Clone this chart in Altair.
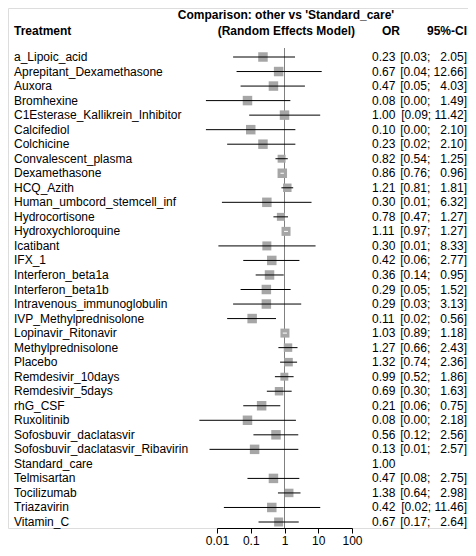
import math
import altair as alt
import pandas as pd

treatments = [
    "a_Lipoic_acid", "Aprepitant_Dexamethasone", "Auxora", "Bromhexine",
    "C1Esterase_Kallikrein_Inhibitor", "Calcifediol", "Colchicine",
    "Convalescent_plasma", "Dexamethasone", "HCQ_Azith",
    "Human_umbcord_stemcell_inf", "Hydrocortisone", "Hydroxychloroquine",
    "Icatibant", "IFX_1", "Interferon_beta1a", "Interferon_beta1b",
    "Intravenous_immunoglobulin", "IVP_Methylprednisolone",
    "Lopinavir_Ritonavir", "Methylprednisolone", "Placebo",
    "Remdesivir_10days", "Remdesivir_5days", "rhG_CSF", "Ruxolitinib",
    "Sofosbuvir_daclatasvir", "Sofosbuvir_daclatasvir_Ribavirin",
    "Standard_care", "Telmisartan", "Tocilizumab", "Triazavirin", "Vitamin_C",
]
or_vals = [0.23, 0.67, 0.47, 0.08, 1.00, 0.10, 0.23, 0.82, 0.86, 1.21, 0.30,
           0.78, 1.11, 0.30, 0.42, 0.36, 0.29, 0.29, 0.11, 1.03, 1.27, 1.32,
           0.99, 0.69, 0.21, 0.08, 0.56, 0.13, 1.00, 0.47, 1.38, 0.42, 0.67]
ci_lo = [0.03, 0.038, 0.05, 0.0047, 0.09, 0.0047, 0.02, 0.54, 0.76, 0.81, 0.014,
         0.47, 0.97, 0.011, 0.06, 0.14, 0.05, 0.03, 0.02, 0.89, 0.66, 0.74,
         0.52, 0.30, 0.06, 0.003, 0.12, 0.006, None, 0.08, 0.64, 0.016, 0.17]
ci_hi = [2.05, 12.66, 4.03, 1.49, 11.42, 2.10, 2.10, 1.25, 0.96, 1.81, 6.32,
         1.27, 1.27, 8.33, 2.77, 0.95, 1.52, 3.13, 0.56, 1.18, 2.43, 2.36,
         1.86, 1.63, 0.75, 2.18, 2.56, 2.57, None, 2.75, 2.98, 11.46, 2.64]
weights = [1.0, 1.0, 1.0, 1.0, 1.0, 1.0, 1.0, 0.7, 1.0, 0.8, 1.0, 0.7, 0.9,
           0.9, 1.0, 1.0, 1.0, 1.0, 1.0, 0.9, 0.8, 0.8, 0.7, 0.8, 1.0, 1.0,
           1.0, 1.0, 0.0, 1.0, 0.8, 1.0, 0.9]
tick_values = [0.01, 0.1, 1, 10, 100]

FONT = "Liberation Sans"
FS = 12
FIG = "\u2007"


def ci_text(lo, hi):
    if lo is None:
        return ""
    up = f"{hi:.2f}"
    pad = FIG * (5 - len(up))
    return f"[{lo:.2f};\u00a0{pad}{up}]"


rows = []
for i, t in enumerate(treatments):
    lo, hi = ci_lo[i], ci_hi[i]
    inside = False
    if lo is not None:
        # CI narrower than the square -> drawn in white inside it
        inside = (math.log10(hi) - math.log10(lo)) * 33.75 < 9 * math.sqrt(weights[i])
    rows.append({
        "idx": i, "trt": t, "or": or_vals[i],
        "lo": lo if lo is not None else float("nan"),
        "hi": hi if hi is not None else float("nan"),
        "w": weights[i], "inside": inside,
        "or_txt": f"{or_vals[i]:.2f}", "ci_txt": ci_text(lo, hi),
    })
df = pd.DataFrame(rows)

xscale = alt.Scale(type="log", domain=[0.01, 100], range=[209, 344], nice=False, zero=False)
yscale = alt.Scale(domain=[0, 32], range=[49, 514], nice=False, zero=False)
X_AX = alt.Axis(values=tick_values, format="~g", title=None, grid=False,
                domainColor="black", tickColor="black", tickSize=5,
                labelFontSize=12, labelColor="black", labelFont=FONT,
                labelPadding=2, labelFlush=False, labelOverlap=False)

base = alt.Chart(df)

ref = alt.Chart(pd.DataFrame({"ref": [1]})).mark_rule(color="#808080", strokeWidth=1).encode(
    x=alt.X("ref:Q", scale=xscale, axis=X_AX),
    y=alt.value(40), y2=alt.value(520),
)

squares = base.transform_filter("datum.w > 0").mark_square(
    color="#a6a6a6", opacity=1, strokeWidth=0
).encode(
    x=alt.X("or:Q", scale=xscale),
    y=alt.Y("idx:Q", scale=yscale, axis=None),
    size=alt.Size("w:Q", scale=alt.Scale(domain=[0, 1], range=[0, 90]), legend=None),
)

lines_out = base.transform_filter("isValid(datum.lo) && !datum.inside").mark_rule(
    color="black", strokeWidth=1
).encode(
    x=alt.X("lo:Q", scale=xscale), x2="hi:Q",
    y=alt.Y("idx:Q", scale=yscale, axis=None),
)
lines_in = base.transform_filter("isValid(datum.lo) && datum.inside").mark_rule(
    color="white", strokeWidth=1
).encode(
    x=alt.X("lo:Q", scale=xscale), x2="hi:Q",
    y=alt.Y("idx:Q", scale=yscale, axis=None),
)

trt_txt = base.mark_text(align="left", baseline="middle", font=FONT, fontSize=FS, color="black").encode(
    x=alt.value(6), y=alt.Y("idx:Q", scale=yscale, axis=None), text="trt:N",
)
or_txt = base.mark_text(align="left", baseline="middle", font=FONT, fontSize=FS, color="black").encode(
    x=alt.value(364), y=alt.Y("idx:Q", scale=yscale, axis=None), text="or_txt:N",
)
ci_txt = base.mark_text(align="right", baseline="middle", font=FONT, fontSize=FS, color="black").encode(
    x=alt.value(459), y=alt.Y("idx:Q", scale=yscale, axis=None), text="ci_txt:N",
)


def header(label, x, y, align):
    return alt.Chart(pd.DataFrame({"label": [label]})).mark_text(
        align=align, baseline="middle", font=FONT, fontSize=FS, fontWeight="bold", color="black"
    ).encode(x=alt.value(x), y=alt.value(y), text="label:N")


headers = [
    header("Treatment", 6, 23, "left"),
    header("Comparison: other vs 'Standard_care'", 278, 7, "center"),
    header("(Random Effects Model)", 347, 23, "right"),
    header("OR", 383, 23, "center"),
    header("95%-CI", 419, 23, "left"),
]

chart = alt.layer(ref, squares, lines_out, lines_in, trt_txt, or_txt, ci_txt, *headers).properties(
    width=460, height=520,
    padding={"left": 0, "right": 0, "top": 0, "bottom": 20},
    autosize=alt.AutoSizeParams(type="none"),
).configure_view(strokeWidth=0).configure(background="white")

chart.save("out.html", embed_options={"renderer": "svg", "actions": False})
